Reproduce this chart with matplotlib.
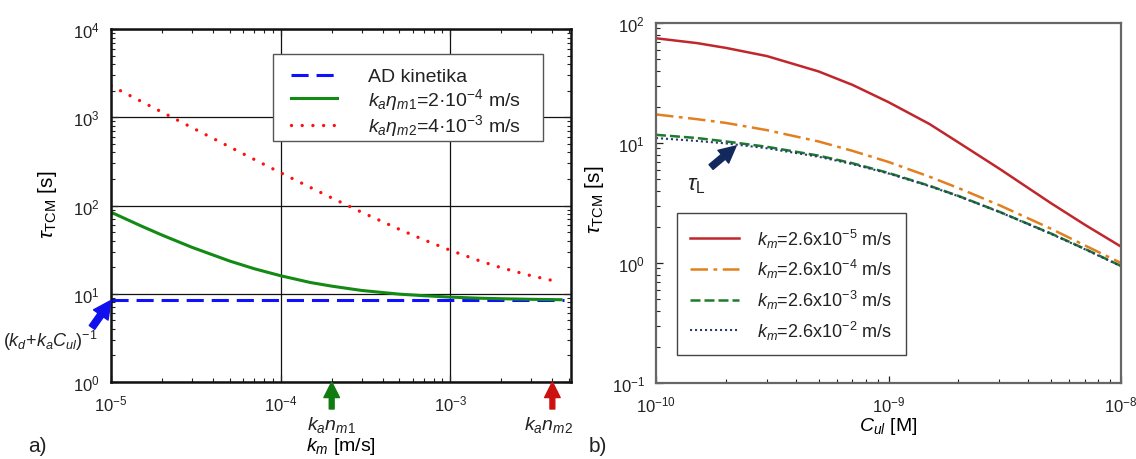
import matplotlib
matplotlib.use("Agg")
import matplotlib.pyplot as plt
from matplotlib.patches import Rectangle
from matplotlib.ticker import NullFormatter

plt.rcParams['font.family'] = ['Liberation Sans', 'DejaVu Sans']
plt.rcParams['mathtext.fontset'] = 'custom'
plt.rcParams['mathtext.rm'] = 'Liberation Sans'
plt.rcParams['mathtext.it'] = 'Liberation Sans:italic'
plt.rcParams['mathtext.bf'] = 'Liberation Sans:bold'
plt.rcParams['mathtext.sf'] = 'Liberation Sans'
plt.rcParams['axes.unicode_minus'] = False
plt.rcParams['text.color'] = '#222222'
plt.rcParams['xtick.color'] = '#222222'
plt.rcParams['ytick.color'] = '#222222'

# ---------------- panel a) data ----------------
km_ad = [1e-5, 4.7e-3]
tau_ad = [8.4, 8.4]
km_pts = [1e-5, 1.5e-5, 2e-5, 3e-5, 5e-5, 7e-5, 1e-4, 1.5e-4, 2e-4, 3e-4,
          5e-4, 7e-4, 1e-3, 1.5e-3, 2e-3, 3e-3, 4.5e-3]
tau_m1 = [84, 58.8, 46.2, 33.6, 23.5, 19.2, 16.0, 13.4, 12.2, 10.9,
          9.9, 9.5, 9.16, 8.9, 8.78, 8.65, 8.56]
km_pts2 = [1e-5, 1.5e-5, 2e-5, 3e-5, 5e-5, 7e-5, 1e-4, 1.5e-4, 2e-4, 3e-4,
           5e-4, 7e-4, 1e-3, 1.5e-3, 2e-3, 3e-3, 4.3e-3]
tau_m2 = [2270, 1520, 1142, 764, 462, 332, 235, 160, 122, 84,
          53.8, 40.8, 31.1, 23.5, 19.7, 16.0, 13.7]
legend_a = ['AD kinetika',
            r'$k_a\eta_{m1}$=2·10$^{-4}$ m/s',
            r'$k_a\eta_{m2}$=4·10$^{-3}$ m/s']
arrow_km = [2e-4, 4e-3]

# ---------------- panel b) data ----------------
cul = [1e-10, 1.5e-10, 2e-10, 3e-10, 5e-10, 7e-10, 1e-9, 1.5e-9, 2e-9,
       3e-9, 5e-9, 7e-9, 1e-8]
tau_km5 = [74.6, 68, 62, 53, 39.5, 30.5, 21.9, 14.4, 10.1, 6.1, 3.15, 2.08, 1.37]
tau_km4 = [17.3, 15.8, 14.7, 12.8, 10.3, 8.6, 6.95, 5.24, 4.21, 3.03, 1.93, 1.40, 1.0]
tau_km3 = [11.7, 11.0, 10.3, 9.3, 7.85, 6.78, 5.63, 4.40, 3.62, 2.67, 1.76, 1.31, 0.945]
tau_km2 = [11.0, 10.4, 9.92, 9.04, 7.68, 6.67, 5.57, 4.37, 3.60, 2.66, 1.75, 1.30, 0.94]
legend_b = [r'$k_m$=2.6x10$^{-5}$ m/s', r'$k_m$=2.6x10$^{-4}$ m/s',
            r'$k_m$=2.6x10$^{-3}$ m/s', r'$k_m$=2.6x10$^{-2}$ m/s']

W, H = 1136, 460
fig = plt.figure(figsize=(W / 100, H / 100), dpi=100)

def axrect(x0, y0, x1, y1):
    return [x0 / W, 1 - y1 / H, (x1 - x0) / W, (y1 - y0) / H]

# ================= panel a =================
AX0, AY0, AX1, AY1 = 111, 30, 571, 383
ax1 = fig.add_axes(axrect(AX0, AY0, AX1, AY1))
ax1.set_xscale('log'); ax1.set_yscale('log')
ax1.set_xlim(1e-5, 5.15e-3); ax1.set_ylim(1, 1e4)
ax1.xaxis.set_minor_formatter(NullFormatter())
ax1.yaxis.set_minor_formatter(NullFormatter())
ax1.grid(True, which='major', color='#111111', lw=0.9)
ax1.set_axisbelow(True)
l1, = ax1.plot(km_ad, tau_ad, color='#1010ff', lw=2.2, dashes=(5.6, 2.6))
l2, = ax1.plot(km_pts, tau_m1, color='#138a13', lw=2.2)
l3, = ax1.plot(km_pts2, tau_m2, color='#ff1010', lw=2.4, dashes=(0.01, 3.2),
               dash_capstyle='round')
for s in ax1.spines.values():
    s.set_linewidth(1.8); s.set_color('#111111')
ax1.tick_params(which='both', direction='in', top=True, right=True, labelsize=12)
ax1.tick_params(which='major', length=5, width=0.9, pad=8)
ax1.tick_params(which='minor', length=3, width=0.8)
ax1.set_ylabel(r'$\tau_{\mathrm{TCM}}$ [s]', fontsize=15)
ax1.yaxis.set_label_coords(-0.113, 0.504)
ax1.set_xlabel(r'$k_m$ [m/s]', fontsize=14, va='center')
ax1.xaxis.set_label_coords(0.5, -0.181)

def ax1_x(px):
    return (px - AX0) / (AX1 - AX0)

def ax1_y(py):
    return (AY1 - py) / (AY1 - AY0)

# legend frame drawn as a box (wider horizontal padding as in the reference)
ax1.add_patch(Rectangle((ax1_x(273), ax1_y(142)), ax1_x(543) - ax1_x(273),
                        ax1_y(55) - ax1_y(142), transform=ax1.transAxes,
                        facecolor='white', edgecolor='#555555', lw=1.0, zorder=4.5))
leg1 = ax1.legend([l1, l2, l3], legend_a, loc='upper left',
                  bbox_to_anchor=(ax1_x(281), ax1_y(59)), borderaxespad=0,
                  fontsize=14, frameon=False, handlelength=2.4, handletextpad=1.6,
                  labelspacing=0.03, borderpad=0.5)
leg1.set_zorder(5)

# arrows below axis
ax1.annotate('', xy=(arrow_km[0], 1), xytext=(0, -27), textcoords='offset pixels',
             annotation_clip=False,
             arrowprops=dict(arrowstyle='simple,head_length=0.8,head_width=0.8,tail_width=0.25',
                             color='#117a11', mutation_scale=14, shrinkA=0, shrinkB=0))
ax1.annotate('', xy=(arrow_km[1], 1), xytext=(0, -27), textcoords='offset pixels',
             annotation_clip=False,
             arrowprops=dict(arrowstyle='simple,head_length=0.8,head_width=0.8,tail_width=0.25',
                             color='#cc1111', mutation_scale=14, shrinkA=0, shrinkB=0))
ax1.annotate('', xy=(km_ad[0], tau_ad[0]), xytext=(-19, -27), textcoords='offset pixels',
             annotation_clip=False,
             arrowprops=dict(arrowstyle='simple,head_length=0.8,head_width=0.8,tail_width=0.3',
                             color='#1010ee', mutation_scale=16, shrinkA=0, shrinkB=0))
fig.text(331 / W, 1 - 425 / H, r'$k_a n_{m1}$', fontsize=14, ha='center', va='center')
fig.text(548 / W, 1 - 425 / H, r'$k_a n_{m2}$', fontsize=14, ha='center', va='center')
fig.text(50 / W, 1 - 341 / H, r'$(k_d$+$k_aC_{ul})^{-1}$', fontsize=13, ha='center', va='center')
fig.text(37 / W, 1 - 447 / H, 'a)', fontsize=15, ha='center', va='center')

# ================= panel b =================
ax2 = fig.add_axes(axrect(656, 24, 1121, 384))
ax2.set_xscale('log'); ax2.set_yscale('log')
ax2.set_xlim(1e-10, 1e-8); ax2.set_ylim(0.1, 100)
ax2.xaxis.set_minor_formatter(NullFormatter())
ax2.yaxis.set_minor_formatter(NullFormatter())
m1, = ax2.plot(cul, tau_km5, color='#c0272d', lw=1.8)
m2, = ax2.plot(cul, tau_km4, color='#e2801f', lw=1.8, dashes=(7, 2.2, 1.5, 2.2))
m3, = ax2.plot(cul, tau_km3, color='#1e7a2c', lw=1.8, dashes=(4, 1.6))
m4, = ax2.plot(cul, tau_km2, color='#2a3c70', lw=1.5, dashes=(1, 1.4))
for s in ax2.spines.values():
    s.set_linewidth(1.6); s.set_color('#666666')
ax2.tick_params(which='both', direction='in', labelsize=12)
ax2.tick_params(which='major', length=5, width=0.9, pad=8)
ax2.tick_params(which='minor', length=3, width=0.8)
ax2.set_ylabel(r'$\tau_{\mathrm{TCM}}$ [s]', fontsize=15)
ax2.yaxis.set_label_coords(-0.108, 0.511)
ax2.set_xlabel(r'$C_{ul}$ [M]', fontsize=14, va='center')
ax2.xaxis.set_label_coords(0.5, -0.118)
leg2 = ax2.legend([m1, m2, m3, m4], legend_b, loc='upper left',
                  bbox_to_anchor=(0.045, 0.472), borderaxespad=0,
                  fontsize=13, fancybox=False, framealpha=1,
                  edgecolor='#444444', handlelength=2.7, handletextpad=1.0,
                  labelspacing=0.42, borderpad=0.75)
leg2.get_frame().set_linewidth(1.0)
ax2.annotate('', xy=(2.21e-10, 9.44), xytext=(-25, -21), textcoords='offset pixels',
             arrowprops=dict(arrowstyle='simple,head_length=0.8,head_width=0.8,tail_width=0.3',
                             color='#13295e', mutation_scale=15, shrinkA=0, shrinkB=0))
ax2.text(1.49e-10, 4.55, r'$\tau_{\mathrm{L}}$', fontsize=16, ha='center', va='center')
fig.text(598 / W, 1 - 447 / H, 'b)', fontsize=15, ha='center', va='center')

fig.savefig('out.png', dpi=100)
